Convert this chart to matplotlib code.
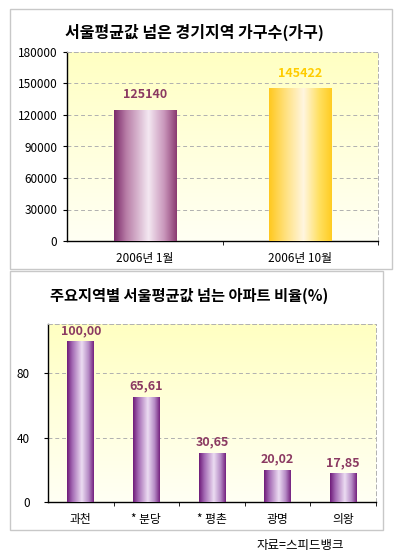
import matplotlib.pyplot as plt
import numpy as np
from matplotlib.colors import LinearSegmentedColormap
from matplotlib.patches import Rectangle

plt.rcParams['font.family'] = ['Noto Sans CJK KR', 'DejaVu Sans']

# top chart data
top_title = '서울평균값 넘은 경기지역 가구수(가구)'
top_cats = ['2006년 1월', '2006년 10월']
top_vals = [125140, 145422]
top_labels = ['125140', '145422']
top_yticks = [0, 30000, 60000, 90000, 120000, 150000, 180000]

# bottom chart data
bot_title = '주요지역별 서울평균값 넘는 아파트 비율(%)'
bot_cats = ['과천', '* 분당', '* 평촌', '광명', '의왕']
bot_vals = [100.00, 65.61, 30.65, 20.02, 17.85]
bot_labels = ['100,00', '65,61', '30,65', '20,02', '17,85']
bot_yticks = [0, 40, 80]

source = '자료=스피드뱅크'

W, H = 395, 551
fig = plt.figure(figsize=(W / 100, H / 100), dpi=100)
fig.patch.set_facecolor('white')


def fx(px):
    return px / W


def fy(py):
    return 1 - py / H


# panel frames
for x0, y0, x1, y1 in [(10, 9, 392, 269), (10, 271, 383, 530)]:
    fig.patches.append(Rectangle((fx(x0), fy(y1)), fx(x1 - x0), (y1 - y0) / H,
                                 transform=fig.transFigure, fill=False,
                                 edgecolor='#c8c8c8', linewidth=1.0))

bg_cmap = LinearSegmentedColormap.from_list('bg', ['#fffff4', '#ffffdc', '#ffffc2'])

purple = LinearSegmentedColormap.from_list(
    'pur', [(0, '#7a2a6a'), (0.2, '#b97fa8'), (0.55, '#f4e8f2'), (0.8, '#c996bb'), (1, '#8a3a70')])
gold = LinearSegmentedColormap.from_list(
    'gold', [(0, '#ffc81e'), (0.25, '#ffe07a'), (0.55, '#fff6e0'), (0.8, '#ffe060'), (1, '#ffcc22')])
violet = LinearSegmentedColormap.from_list(
    'vio', [(0, '#6e1a78'), (0.2, '#a46ab4'), (0.55, '#ecdcf2'), (0.8, '#b68cc6'), (1, '#74207e')])


def style_axes(ax, ylim, yticks, cats):
    ax.set_xlim(-0.5, len(cats) - 0.5)
    ax.set_ylim(*ylim)
    ax.imshow(np.linspace(0, 1, 256).reshape(-1, 1), cmap=bg_cmap, aspect='auto',
              extent=[0, 1, 0, 1], transform=ax.transAxes, origin='lower', zorder=0)
    ax.set_yticks(yticks)
    ax.set_xticks(range(len(cats)))
    ax.set_xticklabels(cats)
    ax.set_xticks(np.arange(0.5, len(cats) - 0.5 + 0.01, 1), minor=True)
    ax.tick_params(axis='x', which='major', length=0, pad=8, labelsize=8.5)
    ax.tick_params(axis='x', which='minor', length=3, direction='out')
    ax.tick_params(axis='y', length=3, direction='out', pad=4, labelsize=8.5)
    ax.yaxis.grid(True, linestyle=(0, (4, 3)), color='#b0b0b0', linewidth=0.7)
    ax.set_axisbelow(True)
    for s in ['top', 'right']:
        ax.spines[s].set_linestyle((0, (4, 3)))
        ax.spines[s].set_color('#b0b0b0')
        ax.spines[s].set_linewidth(0.7)
    for s in ['left', 'bottom']:
        ax.spines[s].set_color('black')
        ax.spines[s].set_linewidth(1.0)


def gradient_bars(ax, vals, width, cmaps):
    bars = ax.bar(range(len(vals)), vals, width=width, color='none', zorder=3)
    grad = np.linspace(0, 1, 256).reshape(1, -1)
    for b, cm in zip(bars, cmaps):
        x0 = b.get_x()
        im = ax.imshow(grad, cmap=cm, aspect='auto', zorder=3,
                       extent=[x0, x0 + b.get_width(), 0, b.get_height()])
        im.set_clip_path(b)
    return bars


# top chart
ax1 = fig.add_axes([fx(67), fy(241), fx(378 - 67), (241 - 52) / H])
style_axes(ax1, (0, 180000), top_yticks, top_cats)
gradient_bars(ax1, top_vals, 0.4, [purple, gold])
for i, (v, lab, c) in enumerate(zip(top_vals, top_labels, ['#8b3a62', '#ffcc00'])):
    ax1.text(i, v + 8000, lab, ha='center', va='bottom', fontsize=9,
             fontweight='bold', color=c, zorder=5)
fig.text(fx(194), fy(32), top_title, ha='center', va='center', fontsize=11.5,
         fontweight='bold', color='black')

# bottom chart
ax2 = fig.add_axes([fx(48), fy(502), fx(376 - 48), (502 - 324) / H])
style_axes(ax2, (0, 110.7), bot_yticks, bot_cats)
ax2.tick_params(axis='y', pad=10)
gradient_bars(ax2, bot_vals, 0.41, [violet] * len(bot_vals))
for i, (v, lab) in enumerate(zip(bot_vals, bot_labels)):
    ax2.text(i, v + 2.5, lab, ha='center', va='bottom', fontsize=9,
             fontweight='bold', color='#8b3a62', zorder=5)
fig.text(fx(189), fy(296), bot_title, ha='center', va='center', fontsize=11,
         fontweight='bold', color='black')

fig.text(fx(300), fy(545), source, ha='center', va='center', fontsize=9, color='black')

fig.savefig('out.png', dpi=100)
